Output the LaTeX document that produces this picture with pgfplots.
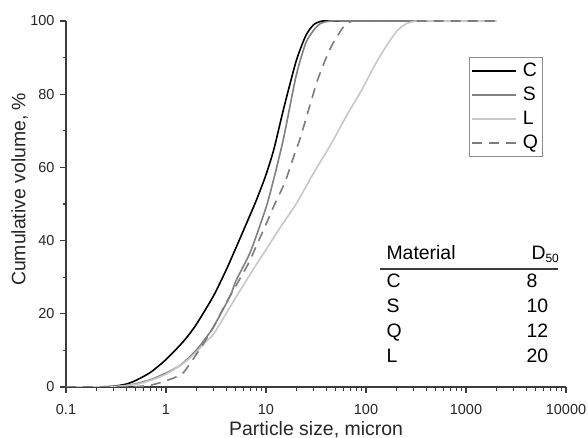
\documentclass[border=0pt]{standalone}
\usepackage{pgfplots}
\pgfplotsset{compat=1.18}
\usepackage{fontspec}
\setmainfont{Liberation Sans}
\definecolor{axgray}{RGB}{60,60,60}
\definecolor{sgray}{RGB}{128,128,128}
\definecolor{lgray}{RGB}{200,200,200}
\definecolor{qgray}{RGB}{125,125,125}
\begin{document}
\begin{tikzpicture}
\begin{axis}[
 name=ax,
 xmode=log,
 scale only axis,
 width=500bp, height=366bp,
 xmin=0.1, xmax=10000, ymin=0, ymax=100,
 axis x line*=bottom, axis y line*=left,
 axis line style={-, axgray, line width=1.2bp},
 xtick={0.1,1,10,100,1000,10000},
 xticklabels={0.1,1,10,100,1000,10000},
 ytick={0,20,40,60,80,100},
 minor ytick={10,30,50,70,90},
 tick align=outside,
 major tick length=6bp, minor tick length=3.5bp,
 tick style={axgray, line width=1.1bp},
 ticklabel style={font=\fontsize{14.5}{16}\selectfont, text=black!85},
 xticklabel style={yshift=-8bp},
 yticklabel style={xshift=-2bp},
 /pgf/number format/assume math mode=true,
 xlabel={Particle size, micron},
 ylabel={Cumulative volume, \%},
 label style={font=\fontsize{19.5}{22}\selectfont, text=black!85},
 xlabel style={at={(axis description cs:0.5,0)}, anchor=base, yshift=-48bp},
 ylabel style={at={(axis description cs:-0.093,0.54)}, anchor=center},
 legend style={at={(0.806,0.902)}, anchor=north west, draw=gray!90, line width=0.8bp,
   font=\fontsize{19.5}{22}\selectfont, inner xsep=2bp, inner ysep=4bp, row sep=5bp,
   cells={anchor=west}},
 legend image code/.code={\draw[#1] (0bp,0bp) -- (44bp,0bp);},
]
\addplot[black, line width=1.6bp, smooth, tension=0.4] table {
x y
0.1 0
0.2 0
0.3 0.2
0.4 0.8
0.5 1.8
0.7 4
1 7.5
1.5 12.5
2 17
3 25
4 32
5 38
6 43
8 51
10 58
12 65
15 76
20 89
25 96
30 99
37 100
60 100
2000 100
};
\addlegendentry{\hspace{4bp}C}
\addplot[sgray, line width=1.6bp, smooth, tension=0.4] table {
x y
0.1 0
0.2 0
0.3 0.1
0.4 0.4
0.5 0.9
0.7 2
1 3.8
1.4 6
2 10
2.6 14
3 16.5
4.4 25
5 29
7 37
10 49
12 57
15 68
20 85
25 94
30 97.5
35 99.3
44 100
70 100
2000 100
};
\addlegendentry{\hspace{4bp}S}
\addplot[lgray, line width=1.6bp, smooth, tension=0.4] table {
x y
0.1 0
0.2 0
0.3 0.1
0.5 0.7
0.7 1.8
1 3.5
1.5 6.5
2 9.5
2.6 12.8
3 14.5
4.4 22
5 24.5
7.4 32
10 37.5
13.8 43.5
20 50
30 58.5
45 66.5
65 74.5
90 81
120 87.5
150 92
200 97
250 99.2
324 100
500 100
2000 100
};
\addlegendentry{\hspace{4bp}L}
\addplot[qgray, line width=1.6bp, dash pattern=on 10bp off 7bp, smooth, tension=0.4] table {
x y
0.1 0
0.3 0
0.5 0.1
0.7 0.5
0.9 1.3
1.2 2.5
1.5 4
2.2 10.5
3 16.5
4 23
6.4 32.8
8 38.5
10.2 45
12 49.5
15.5 56
19.5 64
22 68
32 83
40 90
47 94
60 98.5
74 100
120 100
2000 100
};
\addlegendentry{\hspace{4bp}Q}
\node[anchor=base west, font=\fontsize{19.5}{22}\selectfont] at (rel axis cs:0.634,0.3497) {Material};
\node[anchor=base west, font=\fontsize{19.5}{22}\selectfont] at (rel axis cs:0.924,0.3497) {D\raisebox{-0.35ex}{\fontsize{12}{13}\selectfont 50}};
\draw[axgray, line width=1.4bp] (rel axis cs:0.628,0.3224) -- (rel axis cs:0.984,0.3224);
\node[anchor=base west, font=\fontsize{19.5}{22}\selectfont] at (rel axis cs:0.634,0.2705) {C};
\node[anchor=base west, font=\fontsize{19.5}{22}\selectfont] at (rel axis cs:0.634,0.2022) {S};
\node[anchor=base west, font=\fontsize{19.5}{22}\selectfont] at (rel axis cs:0.634,0.1366) {Q};
\node[anchor=base west, font=\fontsize{19.5}{22}\selectfont] at (rel axis cs:0.634,0.0683) {L};
\node[anchor=base west, font=\fontsize{19.5}{22}\selectfont] at (rel axis cs:0.914,0.2705) {8};
\node[anchor=base west, font=\fontsize{19.5}{22}\selectfont] at (rel axis cs:0.914,0.2022) {10};
\node[anchor=base west, font=\fontsize{19.5}{22}\selectfont] at (rel axis cs:0.914,0.1366) {12};
\node[anchor=base west, font=\fontsize{19.5}{22}\selectfont] at (rel axis cs:0.914,0.0683) {20};
\end{axis}
\pgfresetboundingbox
\path[use as bounding box] ([xshift=-66bp, yshift=-51bp]ax.south west) rectangle ([xshift=22bp, yshift=21bp]ax.north east);
\end{tikzpicture}
\end{document}
